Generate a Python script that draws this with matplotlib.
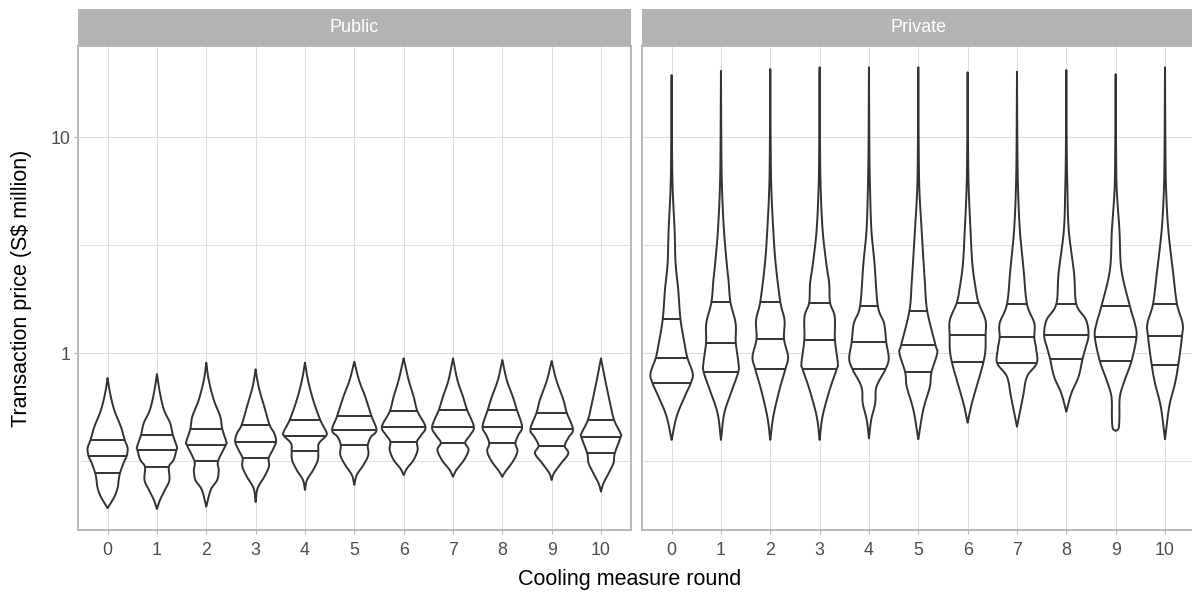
import numpy as np
import matplotlib.pyplot as plt
from matplotlib.patches import Rectangle
from matplotlib.ticker import FixedLocator, NullFormatter

plt.rcParams['font.family'] = ['Liberation Sans', 'DejaVu Sans']

# 데이터: 라운드별 바이올린 윤곽 (위쪽 끝 -> 아래쪽 끝)
# price = 거래가 (S$ million), density = 상대 밀도 (1 = 그림 전체에서 가장 넓은 폭)
rounds = list(range(11))

public_price = [
    [0.768, 0.655, 0.546, 0.456, 0.397, 0.364, 0.335, 0.311, 0.279, 0.259, 0.238, 0.216, 0.192],
    [0.801, 0.655, 0.546, 0.476, 0.418, 0.368, 0.357, 0.321, 0.298, 0.259, 0.233, 0.209, 0.190],
    [0.905, 0.752, 0.608, 0.509, 0.446, 0.390, 0.377, 0.316, 0.288, 0.259, 0.233, 0.195],
    [0.843, 0.700, 0.566, 0.466, 0.426, 0.390, 0.357, 0.327, 0.299, 0.268, 0.237, 0.205],
    [0.905, 0.752, 0.608, 0.491, 0.433, 0.415, 0.383, 0.354, 0.321, 0.288, 0.259, 0.233],
    [0.914, 0.752, 0.630, 0.514, 0.441, 0.410, 0.376, 0.338, 0.304, 0.273, 0.246],
    [0.948, 0.752, 0.630, 0.540, 0.457, 0.418, 0.390, 0.357, 0.321, 0.293, 0.273],
    [0.948, 0.752, 0.630, 0.546, 0.457, 0.418, 0.386, 0.357, 0.321, 0.288, 0.268],
    [0.931, 0.752, 0.630, 0.546, 0.457, 0.418, 0.383, 0.351, 0.315, 0.283, 0.268],
    [0.921, 0.752, 0.608, 0.531, 0.445, 0.409, 0.373, 0.344, 0.310, 0.278, 0.259],
    [0.948, 0.752, 0.587, 0.491, 0.426, 0.408, 0.344, 0.310, 0.278, 0.250, 0.229],
]
public_density = [
    [0, 0.11, 0.30, 0.60, 0.77, 0.90, 0.86, 0.72, 0.56, 0.50, 0.45, 0.30, 0],
    [0, 0.135, 0.32, 0.59, 0.72, 0.90, 0.88, 0.75, 0.54, 0.56, 0.36, 0.135, 0],
    [0, 0.11, 0.34, 0.63, 0.72, 0.90, 0.88, 0.53, 0.56, 0.49, 0.20, 0],
    [0, 0.135, 0.39, 0.63, 0.84, 0.92, 0.77, 0.59, 0.60, 0.39, 0.09, 0],
    [0, 0.135, 0.37, 0.69, 0.96, 0.95, 0.63, 0.60, 0.58, 0.37, 0.09, 0],
    [0, 0.21, 0.49, 0.77, 1.00, 0.75, 0.61, 0.63, 0.41, 0.11, 0],
    [0, 0.225, 0.45, 0.62, 0.98, 0.79, 0.60, 0.63, 0.45, 0.15, 0],
    [0, 0.20, 0.45, 0.64, 0.94, 0.77, 0.55, 0.70, 0.50, 0.15, 0],
    [0, 0.20, 0.47, 0.66, 0.89, 0.72, 0.59, 0.68, 0.47, 0.135, 0],
    [0, 0.21, 0.53, 0.68, 0.96, 0.77, 0.59, 0.75, 0.43, 0.10, 0],
    [0, 0.19, 0.41, 0.59, 0.88, 0.88, 0.62, 0.56, 0.34, 0.11, 0],
]
public_q25 = [0.279, 0.298, 0.316, 0.327, 0.354, 0.376, 0.390, 0.386, 0.383, 0.373, 0.344]
public_median = [0.335, 0.357, 0.377, 0.390, 0.415, 0.441, 0.457, 0.457, 0.457, 0.445, 0.408]
public_q75 = [0.397, 0.418, 0.446, 0.466, 0.491, 0.514, 0.540, 0.546, 0.546, 0.531, 0.491]

private_price = [
    [19.4, 8.73, 5.70, 3.72, 2.61, 1.96, 1.437, 1.112, 0.954, 0.808, 0.731, 0.630, 0.509, 0.397],
    [20.3, 8.73, 5.70, 3.72, 2.61, 2.18, 1.723, 1.377, 1.120, 0.899, 0.819, 0.676, 0.527, 0.397],
    [20.7, 8.73, 5.70, 3.72, 2.61, 1.734, 1.426, 1.164, 0.964, 0.846, 0.676, 0.509, 0.397],
    [21.1, 8.73, 5.70, 3.72, 2.61, 2.11, 1.716, 1.478, 1.152, 0.899, 0.846, 0.676, 0.509, 0.397],
    [21.1, 8.73, 5.70, 3.72, 2.61, 1.655, 1.377, 1.124, 0.948, 0.846, 0.700, 0.587, 0.491, 0.404],
    [21.1, 8.73, 5.70, 3.72, 2.18, 1.575, 1.096, 1.000, 0.816, 0.700, 0.546, 0.400],
    [20.0, 8.73, 5.70, 3.72, 2.61, 2.03, 1.716, 1.426, 1.211, 1.036, 0.909, 0.752, 0.587, 0.477],
    [20.1, 8.73, 5.70, 3.72, 2.43, 1.691, 1.377, 1.186, 1.036, 0.899, 0.779, 0.630, 0.457],
    [20.5, 8.73, 5.70, 3.72, 2.34, 1.691, 1.426, 1.211, 1.055, 0.941, 0.779, 0.652, 0.536],
    [19.6, 8.73, 5.70, 3.72, 2.43, 1.655, 1.377, 1.194, 0.918, 0.752, 0.630, 0.509, 0.451, 0.437],
    [21.1, 8.73, 5.70, 3.72, 2.34, 1.691, 1.377, 1.206, 0.886, 0.726, 0.566, 0.400],
]
private_density = [
    [0, 0.02, 0.05, 0.135, 0.18, 0.30, 0.40, 0.58, 0.71, 0.95, 0.87, 0.59, 0.225, 0],
    [0, 0.02, 0.05, 0.135, 0.26, 0.34, 0.43, 0.66, 0.67, 0.79, 0.78, 0.50, 0.15, 0],
    [0, 0.02, 0.05, 0.135, 0.24, 0.45, 0.64, 0.62, 0.80, 0.68, 0.41, 0.135, 0],
    [0, 0.02, 0.05, 0.135, 0.30, 0.43, 0.47, 0.68, 0.69, 0.82, 0.77, 0.45, 0.13, 0],
    [0, 0.02, 0.05, 0.11, 0.25, 0.40, 0.68, 0.78, 0.89, 0.75, 0.34, 0.28, 0.10, 0],
    [0, 0.02, 0.05, 0.15, 0.29, 0.40, 0.77, 0.85, 0.59, 0.52, 0.22, 0],
    [0, 0.02, 0.05, 0.13, 0.21, 0.35, 0.49, 0.80, 0.81, 0.80, 0.71, 0.49, 0.19, 0],
    [0, 0.02, 0.05, 0.13, 0.30, 0.45, 0.78, 0.78, 0.87, 0.89, 0.45, 0.27, 0],
    [0, 0.02, 0.05, 0.11, 0.35, 0.45, 0.89, 1.00, 0.86, 0.73, 0.55, 0.225, 0],
    [0, 0.02, 0.05, 0.17, 0.26, 0.64, 0.86, 0.94, 0.71, 0.41, 0.19, 0.17, 0.135, 0],
    [0, 0.02, 0.05, 0.15, 0.37, 0.54, 0.79, 0.77, 0.60, 0.45, 0.19, 0],
]
private_q25 = [0.731, 0.819, 0.846, 0.846, 0.846, 0.816, 0.909, 0.899, 0.941, 0.918, 0.886]
private_median = [0.954, 1.120, 1.164, 1.152, 1.124, 1.096, 1.211, 1.186, 1.211, 1.194, 1.206]
private_q75 = [1.437, 1.723, 1.734, 1.716, 1.655, 1.575, 1.716, 1.691, 1.691, 1.655, 1.691]

# 스타일
LINE = '#333333'
GRID = '#DEDEDE'
BORDER = '#B3B3B3'
MAX_HALF = 0.45


def smooth_outline(half, logp, steps=24):
    """윤곽 점들을 베지어 곡선으로 부드럽게 그리기 위한 폴리라인 (그리기 전용)"""
    pts = np.column_stack([half, logp])
    n = len(pts)
    tang = np.zeros_like(pts)
    tang[1:-1] = (pts[2:] - pts[:-2]) / 2
    tang[0] = pts[1] - pts[0]
    tang[-1] = pts[-1] - pts[-2]
    t = np.linspace(0, 1, steps, endpoint=False)[:, None]
    out = []
    for i in range(n - 1):
        p0, p3 = pts[i], pts[i + 1]
        p1, p2 = p0 + tang[i] / 3, p3 - tang[i + 1] / 3
        seg = ((1 - t) ** 3) * p0 + 3 * ((1 - t) ** 2) * t * p1 + 3 * (1 - t) * t ** 2 * p2 + t ** 3 * p3
        out.append(seg)
    out.append(pts[-1:])
    out = np.vstack(out)
    out[:, 0] = np.clip(out[:, 0], 0, None)
    return out[:, 0], out[:, 1]


def draw_violin(ax, x, price, density, quants):
    """바이올린 윤곽 + 사분위선"""
    half = np.array(density) * MAX_HALF
    w, lp = smooth_outline(half, np.log10(price))
    ys = 10 ** np.concatenate([lp, lp[::-1]])
    xs = np.concatenate([x + w, (x - w)[::-1]])
    ax.fill(xs, ys, facecolor='white', edgecolor=LINE, linewidth=1.4,
            joinstyle='round', zorder=3)
    order = np.argsort(lp)
    for q in quants:
        qw = np.interp(np.log10(q), lp[order], w[order])
        ax.plot([x - qw, x + qw], [q, q], color=LINE, linewidth=1.4,
                solid_capstyle='butt', zorder=4)


W, H = 1192, 593
fig = plt.figure(figsize=(W / 100, H / 100), dpi=100)

panel_w = 552.6 / W
panel_b = (H - 530) / H
panel_h = 484 / H
ax_pub = fig.add_axes([78 / W, panel_b, panel_w, panel_h])
ax_pri = fig.add_axes([642 / W, panel_b, panel_w, panel_h])

data = [
    (ax_pub, 'Public', public_price, public_density, public_q25, public_median, public_q75),
    (ax_pri, 'Private', private_price, private_density, private_q25, private_median, private_q75),
]

for ax, name, prices, dens, q25, med, q75 in data:
    ax.set_yscale('log')
    ax.set_ylim(0.152, 26.47)
    ax.set_xlim(-0.6, 10.6)

    for i, r in enumerate(rounds):
        draw_violin(ax, r, prices[i], dens[i], [q25[i], med[i], q75[i]])

    # 축 / 격자
    ax.set_xticks(rounds)
    ax.set_xticklabels([str(r) for r in rounds])
    ax.yaxis.set_major_locator(FixedLocator([1, 10]))
    ax.yaxis.set_minor_locator(FixedLocator([10 ** -0.5, 10 ** 0.5]))
    ax.yaxis.set_minor_formatter(NullFormatter())
    ax.grid(True, which='both', color=GRID, linewidth=0.75, zorder=0)
    ax.set_axisbelow(True)
    ax.tick_params(axis='both', which='major', length=2.8, width=0.8, color=BORDER,
                   labelsize=12.8, labelcolor='#4D4D4D', pad=2.5)
    ax.tick_params(axis='x', pad=5.5)
    ax.tick_params(axis='y', which='minor', length=0)
    for sp in ax.spines.values():
        sp.set_color(BORDER)
        sp.set_linewidth(1.3)

    # 패널 제목 스트립
    strip_h = 37 / 484
    ax.add_patch(Rectangle((0, 1), 1, strip_h, transform=ax.transAxes,
                           facecolor=BORDER, edgecolor='none', clip_on=False))
    ax.text(0.5, 1 + strip_h / 2, name, transform=ax.transAxes, ha='center', va='center',
            color='white', fontsize=13)

ax_pub.yaxis.set_major_formatter(plt.FuncFormatter(lambda v, p: f'{v:g}'))
ax_pri.tick_params(axis='y', which='both', left=False, labelleft=False)

fig.text(630 / W, 1 - 579 / H, 'Cooling measure round', ha='center', va='center', fontsize=15.5)
fig.text(22 / W, 1 - 288 / H, 'Transaction price (S$ million)', ha='center', va='center',
         rotation=90, fontsize=15.5)

fig.savefig('out.png', dpi=100, facecolor='white')
